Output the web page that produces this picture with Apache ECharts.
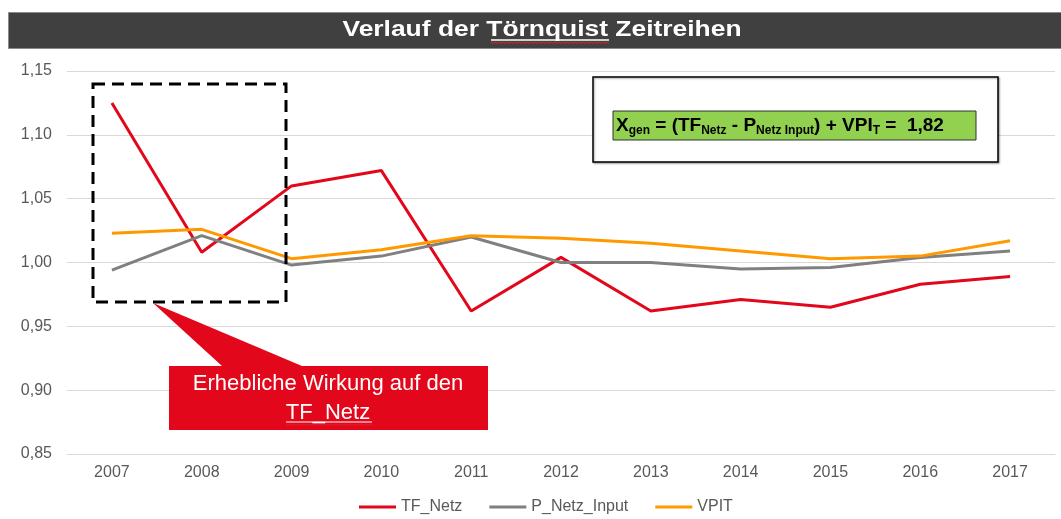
<!DOCTYPE html>
<html>
<head>
<meta charset="utf-8">
<script src="https://cdn.jsdelivr.net/npm/echarts@6/dist/echarts.min.js"></script>
<style>
  html, body { margin: 0; padding: 0; background: #fff; }
  #chart { width: 1061px; height: 519px; }
</style>
</head>
<body>
<div id="chart"></div>
<script>
// Jahre und Zeitreihen
const years = ['2007', '2008', '2009', '2010', '2011', '2012', '2013', '2014', '2015', '2016', '2017'];
const tfNetz = [1.125, 1.008, 1.060, 1.072, 0.962, 1.004, 0.962, 0.971, 0.965, 0.983, 0.989];
const pNetzInput = [0.994, 1.021, 0.998, 1.005, 1.020, 1.000, 1.000, 0.995, 0.996, 1.004, 1.009];
const vpit = [1.023, 1.026, 1.003, 1.010, 1.021, 1.019, 1.015, 1.009, 1.003, 1.005, 1.017];

const RED = '#E2071A', GREY = '#808080', ORANGE = '#FF9900';
const FONT = '"Liberation Sans", Arial, sans-serif';
const chart = echarts.init(document.getElementById('chart'));

function line(name, data, color) {
    return {
        type: 'line',
        name: name,
        data: data,
        symbol: 'none',
        lineStyle: { color: color, width: 3 },
        itemStyle: { color: color },
        z: 3
    };
}

// Rechtschreib-Kringel (wie im Original)
function squiggle(x0, x1, y) {
    const pts = [];
    for (let x = x0, k = 0; x <= x1; x += 2, k++) pts.push([x, y + (k % 2 ? 1.5 : 0)]);
    return { type: 'polyline', z: 12, shape: { points: pts }, style: { stroke: '#e0202a', lineWidth: 1, fill: null } };
}

chart.setOption({
    animation: false,
    textStyle: { fontFamily: FONT },
    grid: { left: 67, right: 6, top: 71, bottom: 65 },
    legend: {
        top: 497,
        left: 354,
        icon: 'rect',
        itemWidth: 37,
        itemHeight: 3,
        itemGap: 27,
        padding: [2, 5, 2, 5],
        textStyle: { color: '#595959', fontSize: 16 },
        data: ['TF_Netz', 'P_Netz_Input', 'VPIT']
    },
    xAxis: {
        type: 'category',
        data: years,
        boundaryGap: true,
        axisLine: { show: true, lineStyle: { color: '#d9d9d9' } },
        axisTick: { show: false },
        axisLabel: { color: '#595959', fontSize: 16, margin: 11 }
    },
    yAxis: {
        type: 'value',
        min: 0.85,
        max: 1.15,
        interval: 0.05,
        axisLine: { show: false },
        axisTick: { show: false },
        splitLine: { lineStyle: { color: '#d9d9d9' } },
        axisLabel: {
            color: '#595959', fontSize: 16, margin: 15,
            formatter: v => v.toFixed(2).replace('.', ',')
        }
    },
    series: [
        line('TF_Netz', tfNetz, RED),
        line('P_Netz_Input', pNetzInput, GREY),
        line('VPIT', vpit, ORANGE)
    ],
    graphic: [
        // Titelleiste
        { type: 'rect', left: 8, top: 12, shape: { width: 1053, height: 36 },
          style: { fill: '#404040', stroke: '#8a8a8a', lineWidth: 1 }, z: 10 },
        { type: 'text', x: 542, y: 30, z: 11, scaleX: 1.2,
          style: { text: 'Verlauf der Törnquist Zeitreihen', fill: '#fff',
                   font: 'bold 22px ' + FONT, align: 'center', verticalAlign: 'middle' } },
        { type: 'line', z: 11, shape: { x1: 491, y1: 40, x2: 609, y2: 40 }, style: { stroke: '#fff', lineWidth: 1.5 } },
        squiggle(491, 609, 42),
        // gestrichelter Rahmen
        { type: 'rect', shape: { x: 93, y: 84, width: 193, height: 218 }, z: 5,
          style: { fill: 'none', stroke: '#000', lineWidth: 3, lineDash: [12, 7] } },
        // Sprechblase
        { type: 'polygon', z: 6,
          shape: { points: [[169, 366], [222, 366], [153, 303], [302, 366], [488, 366], [488, 430], [169, 430]] },
          style: { fill: RED } },
        { type: 'text', x: 328, y: 398, z: 7,
          style: { text: 'Erhebliche Wirkung auf den\nTF_Netz', fill: '#fff',
                   font: '22px ' + FONT, lineHeight: 29, align: 'center', verticalAlign: 'middle' } },
        { type: 'line', z: 8, shape: { x1: 286, y1: 422, x2: 372, y2: 422 }, style: { stroke: '#fff', lineWidth: 1 } },
        squiggle(286, 372, 424),
        // Formelkasten
        { type: 'rect', shape: { x: 593, y: 77, width: 405, height: 85 }, z: 5,
          style: { fill: '#fff', stroke: '#000', lineWidth: 1.5,
                   shadowColor: 'rgba(0,0,0,0.35)', shadowBlur: 2, shadowOffsetX: 1, shadowOffsetY: 1 } },
        { type: 'rect', shape: { x: 613, y: 111, width: 363, height: 29 }, z: 6,
          style: { fill: '#92D050', stroke: '#333', lineWidth: 1 } },
        { type: 'text', x: 616, y: 126, z: 7,
          style: {
              text: '{b|X}{s|gen}{b| = (TF}{s|Netz}{b| - P}{s|Netz Input}{b|) + VPI}{s|T}{b| =  1,82}',
              verticalAlign: 'middle',
              rich: {
                  b: { fontSize: 19, fontWeight: 'bold', fill: '#000', lineHeight: 22, verticalAlign: 'middle', fontFamily: FONT },
                  s: { fontSize: 12, fontWeight: 'bold', fill: '#000', lineHeight: 22, verticalAlign: 'bottom', fontFamily: FONT }
              }
          } }
    ]
});
</script>
</body>
</html>
